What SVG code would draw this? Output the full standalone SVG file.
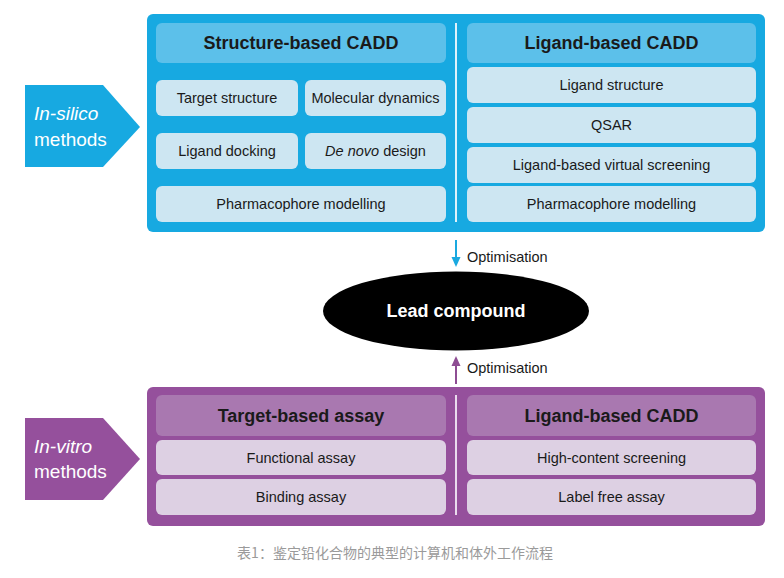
<svg xmlns="http://www.w3.org/2000/svg" width="784" height="578" viewBox="0 0 784 578">
<defs>
<style>
.t{font-family:"Liberation Sans",Arial,sans-serif;fill:#1a1a1a;text-anchor:middle}
.hd{font-size:18px;font-weight:bold}
.it{font-size:14.5px}
.bh{fill:#5cc0ea}
.bi{fill:#cde6f2}
.ph{fill:#a978b0}
.pi{fill:#ddd0e3}
.lab{font-family:"Liberation Sans",Arial,sans-serif;font-size:19px;fill:#ffffff}
.opt{font-family:"Liberation Sans",Arial,sans-serif;font-size:14.5px;fill:#1a1a1a}
</style>
</defs>
<rect width="784" height="578" fill="#ffffff"/>

<g id="insilico-label">
<polygon points="25,85 103,85 140,127 103,167 25,167" fill="#17a9e1"/>
<text class="lab" x="34" y="120" font-style="italic">In-silico</text>
<text class="lab" x="34" y="146">methods</text>
</g>

<g id="insilico-panel">
<rect x="147" y="14" width="618" height="218" rx="6" fill="#17a9e1"/>
<line x1="456" y1="23" x2="456" y2="222" stroke="#dff2fb" stroke-width="2"/>
</g>

<g id="structure-based">
<rect class="bh" x="156" y="23" width="290" height="40" rx="6"/>
<text class="t hd" x="301" y="49">Structure-based CADD</text>
</g>
<g id="target-structure">
<rect class="bi" x="156" y="80" width="142" height="36" rx="6"/>
<text class="t it" x="227" y="103">Target structure</text>
</g>
<g id="molecular-dynamics">
<rect class="bi" x="305" y="80" width="141" height="36" rx="6"/>
<text class="t it" x="375.5" y="103">Molecular dynamics</text>
</g>
<g id="ligand-docking">
<rect class="bi" x="156" y="133" width="142" height="36" rx="6"/>
<text class="t it" x="227" y="156">Ligand docking</text>
</g>
<g id="de-novo-design">
<rect class="bi" x="305" y="133" width="141" height="36" rx="6"/>
<text class="t it" x="375.5" y="156"><tspan font-style="italic">De novo</tspan> design</text>
</g>
<g id="pharmacophore-left">
<rect class="bi" x="156" y="186" width="290" height="36" rx="6"/>
<text class="t it" x="301" y="209">Pharmacophore modelling</text>
</g>

<g id="ligand-based">
<rect class="bh" x="467" y="23" width="289" height="40" rx="6"/>
<text class="t hd" x="611.5" y="49">Ligand-based CADD</text>
</g>
<g id="ligand-structure">
<rect class="bi" x="467" y="67" width="289" height="36" rx="6"/>
<text class="t it" x="611.5" y="90">Ligand structure</text>
</g>
<g id="qsar">
<rect class="bi" x="467" y="107" width="289" height="36" rx="6"/>
<text class="t it" x="611.5" y="130">QSAR</text>
</g>
<g id="lbvs">
<rect class="bi" x="467" y="147" width="289" height="36" rx="6"/>
<text class="t it" x="611.5" y="170">Ligand-based virtual screening</text>
</g>
<g id="pharmacophore-right">
<rect class="bi" x="467" y="186" width="289" height="36" rx="6"/>
<text class="t it" x="611.5" y="209">Pharmacophore modelling</text>
</g>

<g id="lead-compound">
<ellipse cx="456" cy="311" rx="133" ry="39.5" fill="#000000"/>
<text x="456" y="317" font-family="Liberation Sans,Arial,sans-serif" font-size="18" font-weight="bold" fill="#ffffff" text-anchor="middle">Lead compound</text>
</g>

<g id="connectors">
<line x1="456" y1="240" x2="456" y2="258" stroke="#1aa9e0" stroke-width="2"/>
<polygon points="451.5,257 460.5,257 456,267" fill="#1aa9e0"/>
<text class="opt" x="467" y="262">Optimisation</text>
<line x1="456" y1="384" x2="456" y2="365" stroke="#8e4d93" stroke-width="2"/>
<polygon points="451.5,366 460.5,366 456,356" fill="#8e4d93"/>
<text class="opt" x="467" y="373">Optimisation</text>
</g>

<g id="invitro-label">
<polygon points="25,418 103,418 140,459 103,500 25,500" fill="#95509c"/>
<text class="lab" x="34" y="453" font-style="italic">In-vitro</text>
<text class="lab" x="34" y="478">methods</text>
</g>

<g id="invitro-panel">
<rect x="147" y="387" width="618" height="139" rx="6" fill="#95509c"/>
<line x1="456" y1="395" x2="456" y2="515" stroke="#eadcee" stroke-width="2"/>
</g>

<g id="target-based-assay">
<rect class="ph" x="156" y="395" width="290" height="41" rx="6"/>
<text class="t hd" x="301" y="421.5">Target-based assay</text>
</g>
<g id="functional-assay">
<rect class="pi" x="156" y="440" width="290" height="35" rx="6"/>
<text class="t it" x="301" y="462.5">Functional assay</text>
</g>
<g id="binding-assay">
<rect class="pi" x="156" y="479" width="290" height="36" rx="6"/>
<text class="t it" x="301" y="502">Binding assay</text>
</g>

<g id="ligand-based-vitro">
<rect class="ph" x="467" y="395" width="289" height="41" rx="6"/>
<text class="t hd" x="611.5" y="421.5">Ligand-based CADD</text>
</g>
<g id="high-content">
<rect class="pi" x="467" y="440" width="289" height="35" rx="6"/>
<text class="t it" x="611.5" y="462.5">High-content screening</text>
</g>
<g id="label-free">
<rect class="pi" x="467" y="479" width="289" height="36" rx="6"/>
<text class="t it" x="611.5" y="502">Label free assay</text>
</g>

<text x="395" y="558" font-family="Noto Sans CJK SC,sans-serif" font-size="14" fill="#9a9a9a" text-anchor="middle">表1：鉴定铅化合物的典型的计算机和体外工作流程</text>
</svg>
